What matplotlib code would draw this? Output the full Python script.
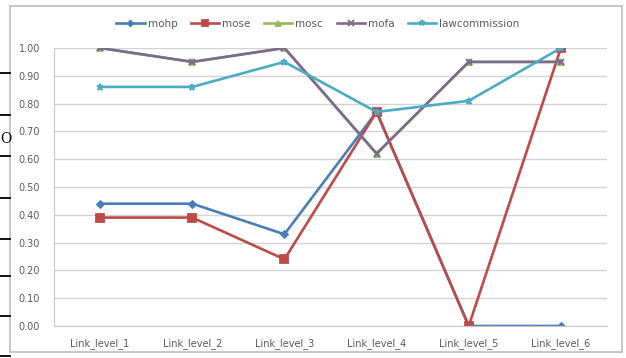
import matplotlib
matplotlib.use("Agg")
import matplotlib.pyplot as plt
from matplotlib.lines import Line2D
from matplotlib.patches import Rectangle

categories = ["Link_level_1", "Link_level_2", "Link_level_3",
              "Link_level_4", "Link_level_5", "Link_level_6"]
mohp = [0.44, 0.44, 0.33, 0.77, 0.00, 0.00]
mose = [0.39, 0.39, 0.24, 0.77, 0.00, 1.00]
mosc = [1.00, 0.95, 1.00, 0.62, 0.95, 0.95]
mofa = [1.00, 0.95, 1.00, 0.62, 0.95, 0.95]
lawcommission = [0.86, 0.86, 0.95, 0.77, 0.81, 1.00]
yticks = [0.0, 0.1, 0.2, 0.3, 0.4, 0.5, 0.6, 0.7, 0.8, 0.9, 1.0]

W, H = 626, 358
fig = plt.figure(figsize=(W / 100, H / 100), dpi=100)
fig.patch.set_facecolor("white")

# chart frame
fig.add_artist(Rectangle((10 / W, 1 - 352 / H), 612 / W, 346 / H,
                         transform=fig.transFigure, fill=False,
                         edgecolor="#bdbdbd", linewidth=1.2))

# stray table rules on the left margin
for y in [73, 115, 156, 198, 239, 276, 316, 356]:
    fig.add_artist(Line2D([0, 10 / W], [1 - y / H, 1 - y / H],
                          transform=fig.transFigure, color="black", linewidth=1.3))
fig.text(0.5 / W, 1 - 139 / H, "O", fontsize=10, va="center", ha="left",
         family="DejaVu Serif")

ax = fig.add_axes([54 / W, 1 - 326 / H, 553 / W, 278 / H])
x = list(range(len(categories)))

series = [
    ("mohp", mohp, "#4a7ebb", "D", 3.5),
    ("mose", mose, "#be4b48", "s", 5.5),
    ("mosc", mosc, "#98b954", "^", 4.5),
    ("mofa", mofa, "#7d6a91", "x", 5),
    ("lawcommission", lawcommission, "#4bacc6", "*", 5),
]
for name, vals, col, mk, ms in series:
    ax.plot(x, vals, color=col, marker=mk, markersize=ms, linewidth=1.9,
            markeredgewidth=1.3, label=name)

ax.set_xlim(-0.5, len(categories) - 0.5)
ax.set_ylim(0, 1.0)
ax.set_yticks(yticks)
ax.set_yticklabels([f"{v:.2f}" for v in yticks])
ax.set_xticks(x)
ax.set_xticklabels(categories)
ax.tick_params(axis="both", labelsize=7, colors="#5a5a5a", length=0)
ax.tick_params(axis="x", pad=9)
ax.tick_params(axis="y", pad=10)
ax.grid(axis="y", color="#d4d4d4", linewidth=1)
ax.set_axisbelow(True)
for side in ["top", "right"]:
    ax.spines[side].set_visible(False)
ax.spines["left"].set_color("#c8c8c8")
ax.spines["bottom"].set_color("#c8c8c8")

fig.legend(loc="center", bbox_to_anchor=(318 / W, 1 - 24 / H), ncol=5,
           frameon=False, fontsize=7.5, labelcolor="#5a5a5a",
           handlelength=2.7, handletextpad=0.3, columnspacing=1.3,
           markerscale=0.8)

fig.savefig("out.png", dpi=100, facecolor="white")
